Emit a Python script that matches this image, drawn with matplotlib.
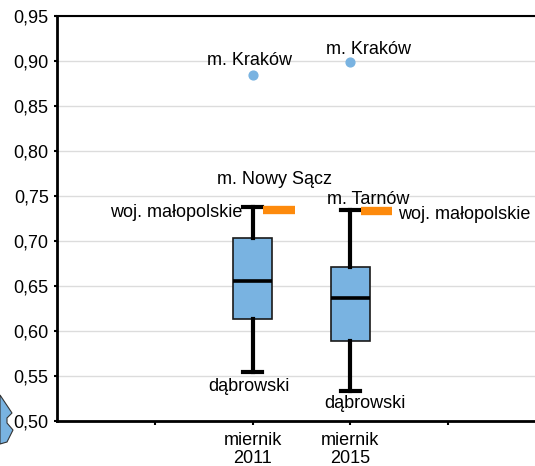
import matplotlib
matplotlib.use("Agg")
import matplotlib.pyplot as plt
from matplotlib.patches import Polygon

plt.rcParams['font.family'] = ['Liberation Sans', 'DejaVu Sans']

# data
positions = [2, 3]
tick_labels = ['miernik\n2011', 'miernik\n2015']
whislo = [0.554, 0.533]
q1 = [0.613, 0.589]
med = [0.656, 0.637]
q3 = [0.703, 0.671]
whishi = [0.738, 0.735]
krakow = [0.885, 0.899]
wojewodztwo = [0.735, 0.733]

fig = plt.figure(figsize=(5.35, 4.66), dpi=100)
ax = fig.add_axes([57 / 535, 45 / 466, 489 / 535, 405 / 466])

stats = []
for i in range(len(positions)):
    stats.append({'med': med[i], 'q1': q1[i], 'q3': q3[i],
                  'whislo': whislo[i], 'whishi': whishi[i], 'fliers': []})

ax.bxp(stats, positions=positions, widths=0.4, capwidths=0.2,
       patch_artist=True, showfliers=False,
       boxprops={'facecolor': '#79b3e1', 'edgecolor': '#1a1a1a', 'lw': 1.2},
       medianprops={'color': 'black', 'lw': 2.6},
       whiskerprops={'color': 'black', 'lw': 3},
       capprops={'color': 'black', 'lw': 3}, zorder=3)

ax.scatter(positions, krakow, s=40, color='#79b3e1', zorder=4)
ax.hlines(wojewodztwo, [p + 0.11 for p in positions], [p + 0.43 for p in positions],
          color='#fd8a0c', lw=6, zorder=4)

fs = 13
ax.text(1.973, 0.8956, 'm. Kraków', ha='center', va='baseline', fontsize=fs)
ax.text(3.18, 0.9078, 'm. Kraków', ha='center', va='baseline', fontsize=fs)
ax.text(2.229, 0.7633, 'm. Nowy Sącz', ha='center', va='baseline', fontsize=fs)
ax.text(3.18, 0.7408, 'm. Tarnów', ha='center', va='baseline', fontsize=fs)
ax.text(1.892, 0.7267, 'woj. małopolskie', ha='right', va='baseline', fontsize=fs)
ax.text(3.487, 0.7244, 'woj. małopolskie', ha='left', va='baseline', fontsize=fs)
ax.text(1.963, 0.5333, 'dąbrowski', ha='center', va='baseline', fontsize=fs)
ax.text(3.144, 0.5144, 'dąbrowski', ha='center', va='baseline', fontsize=fs)

ax.set_xlim(0, 5)
ax.set_ylim(0.5, 0.95)
ax.set_xticks([1, 2, 3, 4])
ax.set_xticklabels([''] + tick_labels + [''], fontsize=fs, linespacing=1.1)
yt = [0.5 + 0.05 * i for i in range(10)]
ax.set_yticks(yt)
ax.set_yticklabels([f'{v:.2f}'.replace('.', ',') for v in yt], fontsize=fs)
ax.tick_params(axis='x', length=3, width=1.5, pad=5)
ax.tick_params(axis='y', length=2, width=1.5, pad=4)
ax.grid(axis='y', color='#dcdcdc', lw=1)
ax.set_axisbelow(True)
for s in ['left', 'bottom']:
    ax.spines[s].set_linewidth(2)
ax.spines['top'].set_linewidth(1.5)
ax.spines['right'].set_visible(False)

# decorative map fragment in the lower left corner
shape = [(0, 395), (12, 413), (7, 418), (7, 423), (13, 430), (7, 442), (0, 444)]
fig.patches.append(Polygon([(x / 535, 1 - y / 466) for x, y in shape], closed=True,
                           transform=fig.transFigure, facecolor='#79b3e1',
                           edgecolor='#333333', lw=0.8))

fig.savefig('out.png', dpi=100)
